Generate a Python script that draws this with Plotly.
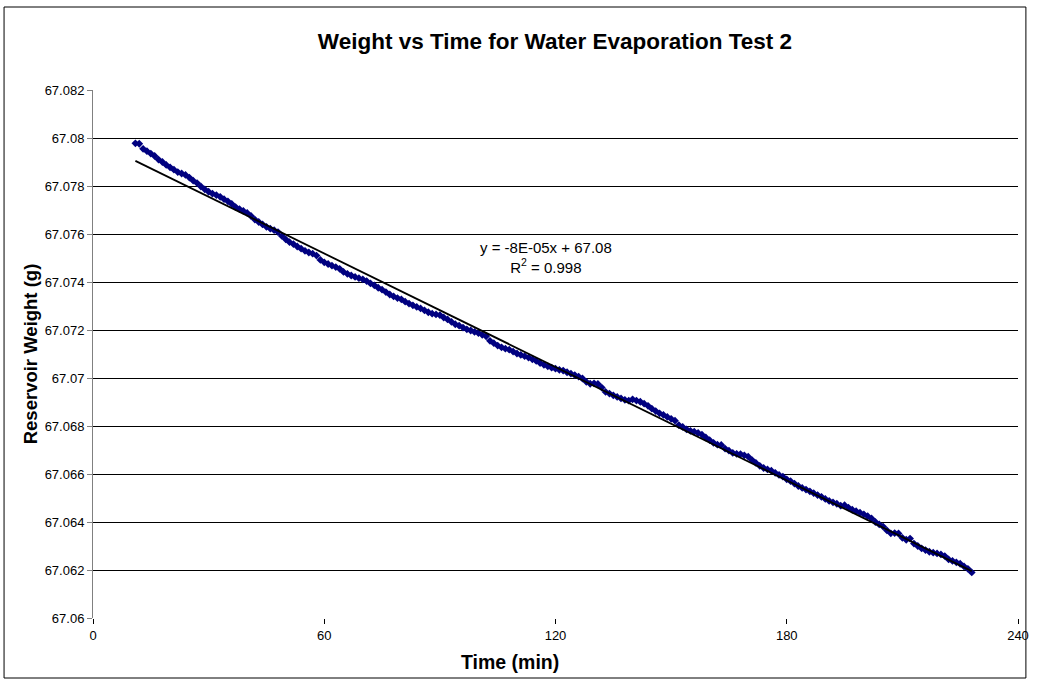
import numpy as np
import plotly.graph_objects as go

# Time (min)
time_min = list(range(11, 229))

# Reservoir weight (g)
weight_g = [
    67.07978, 67.07976, 67.07955, 67.07945, 67.07935, 67.07925, 67.07910, 67.07900, 67.07888, 67.07878,
    67.07868, 67.07858, 67.07852, 67.07846, 67.07835, 67.07822, 67.07812, 67.07798, 67.07786, 67.07776,
    67.07768, 67.07762, 67.07755, 67.07745, 67.07736, 67.07725, 67.07712, 67.07704, 67.07696, 67.07688,
    67.07675, 67.07660, 67.07650, 67.07640, 67.07630, 67.07622, 67.07616, 67.07608, 67.07592, 67.07578,
    67.07566, 67.07558, 67.07548, 67.07539, 67.07530, 67.07523, 67.07518, 67.07510, 67.07492, 67.07482,
    67.07475, 67.07468, 67.07462, 67.07455, 67.07442, 67.07434, 67.07427, 67.07421, 67.07416, 67.07411,
    67.07404, 67.07394, 67.07386, 67.07376, 67.07368, 67.07358, 67.07348, 67.07340, 67.07333, 67.07328,
    67.07318, 67.07310, 67.07303, 67.07296, 67.07290, 67.07282, 67.07274, 67.07268, 67.07265, 67.07262,
    67.07252, 67.07244, 67.07234, 67.07224, 67.07218, 67.07210, 67.07203, 67.07198, 67.07192, 67.07187,
    67.07180, 67.07174, 67.07155, 67.07145, 67.07135, 67.07128, 67.07122, 67.07118, 67.07110, 67.07102,
    67.07096, 67.07091, 67.07085, 67.07078, 67.07071, 67.07062, 67.07055, 67.07049, 67.07043, 67.07039,
    67.07034, 67.07031, 67.07024, 67.07018, 67.07012, 67.07006, 67.06998, 67.06984, 67.06976, 67.06978,
    67.06975, 67.06960, 67.06942, 67.06935, 67.06928, 67.06921, 67.06915, 67.06909, 67.06906, 67.06911,
    67.06906, 67.06901, 67.06893, 67.06884, 67.06872, 67.06862, 67.06853, 67.06846, 67.06838, 67.06830,
    67.06822, 67.06804, 67.06796, 67.06786, 67.06780, 67.06776, 67.06771, 67.06764, 67.06752, 67.06741,
    67.06730, 67.06722, 67.06721, 67.06706, 67.06697, 67.06688, 67.06684, 67.06683, 67.06678, 67.06672,
    67.06658, 67.06646, 67.06634, 67.06625, 67.06619, 67.06614, 67.06605, 67.06596, 67.06589, 67.06578,
    67.06570, 67.06560, 67.06550, 67.06542, 67.06535, 67.06528, 67.06520, 67.06512, 67.06505, 67.06496,
    67.06488, 67.06482, 67.06476, 67.06468, 67.06470, 67.06460, 67.06451, 67.06445, 67.06439, 67.06432,
    67.06424, 67.06415, 67.06400, 67.06390, 67.06381, 67.06365, 67.06353, 67.06354, 67.06352, 67.06334,
    67.06326, 67.06331, 67.06310, 67.06300, 67.06290, 67.06283, 67.06276, 67.06272, 67.06269, 67.06265,
    67.06258, 67.06244, 67.06238, 67.06232, 67.06226, 67.06215, 67.06205, 67.06190,
]

y_ticks = [67.06, 67.062, 67.064, 67.066, 67.068, 67.07, 67.072, 67.074, 67.076, 67.078, 67.08, 67.082]
y_tick_labels = ["67.06", "67.062", "67.064", "67.066", "67.068", "67.07",
                 "67.072", "67.074", "67.076", "67.078", "67.08", "67.082"]
x_ticks = [0, 60, 120, 180, 240]

FONT = "Liberation Sans, Arial, sans-serif"

# linear trendline
slope, intercept = np.polyfit(time_min, weight_g, 1)
tx = [min(time_min), max(time_min)]
ty = [slope * v + intercept for v in tx]

# plot area in pixels: x 93..1029, y 90..618
PL, PR, PT, PB = 93, 1029, 90, 618
def px(xp):
    return (xp - PL) / (PR - PL)
def py(yp):
    return (PB - yp) / (PB - PT)

fig = go.Figure()
fig.add_trace(go.Scatter(
    x=time_min, y=weight_g, mode="markers",
    marker=dict(symbol="diamond", size=6, color="#000080", line=dict(width=0)),
    showlegend=False, hoverinfo="x+y",
))
fig.add_trace(go.Scatter(
    x=tx, y=ty, mode="lines", line=dict(color="#000000", width=1.8),
    showlegend=False, hoverinfo="skip",
))

fig.update_layout(
    width=1040, height=681,
    margin=dict(l=PL, r=1040 - PR, t=PT, b=681 - PB),
    paper_bgcolor="white", plot_bgcolor="white",
    font=dict(family=FONT, color="#000000", size=13),
    title=dict(text="<b>Weight vs Time for Water Evaporation Test 2</b>",
               x=(555 / 1040), xanchor="center", y=1 - 41 / 681, yanchor="middle",
               font=dict(family=FONT, size=22.5, color="#000000")),
    xaxis=dict(
        range=[0, 240], tickvals=x_ticks, ticks="outside", ticklen=5, tickcolor="#000000",
        showgrid=False, zeroline=False, showline=False,
        tickfont=dict(family=FONT, size=13),
    ),
    yaxis=dict(
        range=[67.06, 67.082], tickvals=y_ticks, ticktext=y_tick_labels,
        ticks="outside", ticklen=5, tickcolor="#808080",
        showgrid=True, gridcolor="#000000", gridwidth=1,
        zeroline=False, showline=True, linecolor="#808080", linewidth=1,
        title=dict(text="<b>Reservoir Weight (g)</b>", font=dict(family=FONT, size=18.5), standoff=2),
        tickfont=dict(family=FONT, size=13),
    ),
    annotations=[
        dict(text="y = -8E-05x + 67.08<br>R<sup>2</sup> = 0.998", x=px(551), y=py(257),
             xref="paper", yref="paper", showarrow=False, xanchor="center", yanchor="middle",
             font=dict(family=FONT, size=15, color="#000000"), align="center"),
        dict(text="<b>Time (min)</b>", x=px(515), y=py(662),
             xref="paper", yref="paper", showarrow=False, xanchor="center", yanchor="middle",
             font=dict(family=FONT, size=19.5, color="#000000")),
    ],
)
fig.add_shape(type="rect", xref="paper", yref="paper",
              x0=px(3), x1=px(1037), y0=py(678), y1=py(7),
              line=dict(color="#000000", width=1), fillcolor="rgba(0,0,0,0)", layer="below")

fig.write_html("out.html")
